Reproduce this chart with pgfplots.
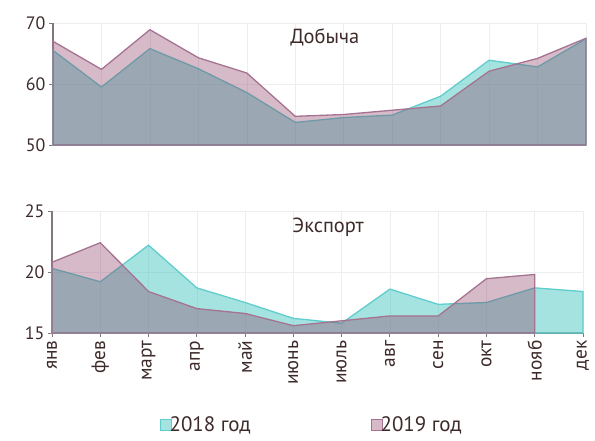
\documentclass[border=0pt]{standalone}
\usepackage{pgfplots}
\pgfplotsset{compat=1.18}
\usepackage{fontspec}
\setmainfont{PT Sans}
\definecolor{txt}{RGB}{61,42,42}
\definecolor{c18}{RGB}{75,199,193}
\definecolor{c18l}{RGB}{95,205,205}
\definecolor{c19}{RGB}{138,58,98}
\definecolor{c19l}{RGB}{165,115,145}
\definecolor{axc}{RGB}{128,120,122}
\definecolor{gridc}{RGB}{238,238,240}
\pgfplotsset{
  mybase/.style={
    scale only axis,
    anchor=south west,
    height=122bp,
    xmin=0, xmax=11,
    axis lines=left,
    axis line style={-, draw=axc, line width=1.3bp},
    tick style={draw=axc, line width=1bp},
    tick align=outside,
    major tick length=4bp,
    grid=major,
    major grid style={draw=gridc, line width=0.6bp},
    xtick={0,...,11},
    clip=false,
    yticklabel style={font=\fontsize{18}{20}\selectfont, text=txt},
    xticklabel style={font=\fontsize{19.5}{22}\selectfont, text=txt},
    /pgf/number format/assume math mode=true,
    every axis plot/.append style={line width=1.3bp},
  },
  s18/.style={draw=c18l, fill=c18, fill opacity=0.5},
  s19/.style={draw=c19l, fill=c19, fill opacity=0.35},
}
\begin{document}
\begin{tikzpicture}
\path[use as bounding box] (0,0) rectangle (595bp,-441bp);
% Top axis: Добыча
\begin{axis}[mybase,
  at={(53bp,-145bp)}, width=533bp,
  ymin=50, ymax=70, ytick={50,60,70},
  xticklabels={}, xtick style={draw=none},
]
\addplot[s18] coordinates {(0,65.5)(1,59.5)(2,65.8)(3,62.5)(4,58.6)(5,53.7)(6,54.5)(7,54.9)(8,58.0)(9,63.9)(10,62.8)(11,67.4)} \closedcycle;
\addplot[s19] coordinates {(0,67.0)(1,62.4)(2,68.9)(3,64.3)(4,61.8)(5,54.7)(6,55.0)(7,55.7)(8,56.4)(9,62.1)(10,64.2)(11,67.5)} \closedcycle;
\node[font=\fontsize{20.5}{23}\selectfont, text=txt] at (rel axis cs:0.51,0.885) {Добыча};
\end{axis}
% Bottom axis: Экспорт
\begin{axis}[mybase,
  at={(52bp,-333bp)}, width=531bp,
  ymin=15, ymax=25, ytick={15,20,25},
  xticklabels={янв,фев,март,апр,май,июнь,июль,авг,сен,окт,нояб,дек},
  xticklabel style={rotate=90, anchor=east},
  legend style={at={(0.489,-0.755)}, anchor=center, draw=none, fill=none,
    font=\fontsize{21}{23}\selectfont, text=txt, legend columns=2,
    /tikz/every even column/.append style={column sep=118bp},
    legend cell align=left},
  legend image code/.code={\draw[#1, line width=1bp] (0bp,-5bp) rectangle (11bp,6bp);},
]
\addplot[s18] coordinates {(0,20.3)(1,19.2)(2,22.2)(3,18.7)(4,17.5)(5,16.2)(6,15.8)(7,18.6)(8,17.35)(9,17.5)(10,18.7)(11,18.4)} \closedcycle;
\addlegendentry{\hspace{-4bp}2018 год}
\addplot[s19] coordinates {(0,20.8)(1,22.4)(2,18.4)(3,17.0)(4,16.6)(5,15.6)(6,16.0)(7,16.4)(8,16.4)(9,19.45)(10,19.8)} \closedcycle;
\addlegendentry{\hspace{-4bp}2019 год}
\node[font=\fontsize{20.5}{23}\selectfont, text=txt] at (rel axis cs:0.52,0.87) {Экспорт};
\end{axis}
\end{tikzpicture}
\end{document}
